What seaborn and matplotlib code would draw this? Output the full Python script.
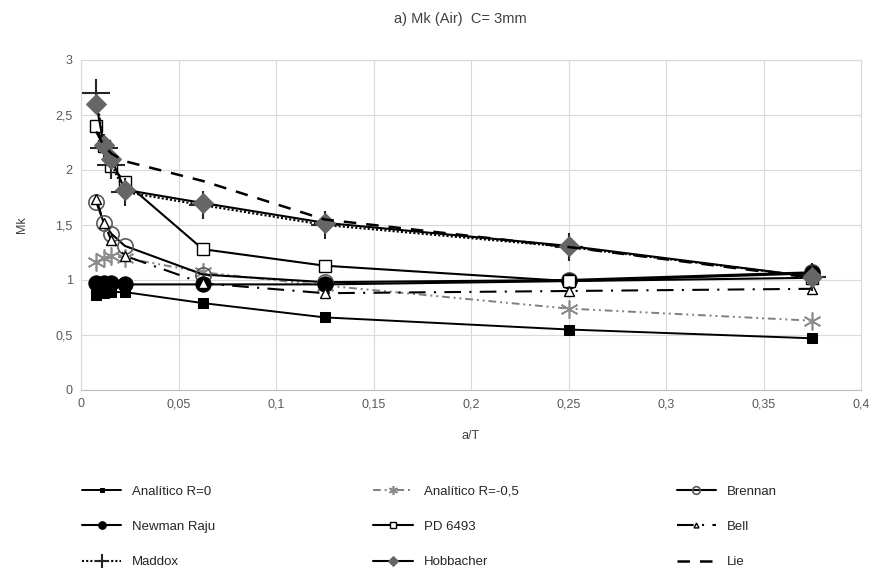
import numpy as np
import pandas as pd
import matplotlib
matplotlib.use("Agg")
import matplotlib.pyplot as plt
import seaborn as sns

# ---- data ----
a_T = [0.0078, 0.0117, 0.0156, 0.0225, 0.0625, 0.125, 0.25, 0.375]

analitico_r0 = [0.86, 0.88, 0.89, 0.89, 0.79, 0.66, 0.55, 0.47]
analitico_r05 = [1.16, 1.20, 1.22, 1.20, 1.07, 0.95, 0.74, 0.63]
brennan = [1.71, 1.52, 1.42, 1.31, 1.05, 0.98, 1.00, 1.07]
newman_raju = [0.97, 0.97, 0.97, 0.96, 0.96, 0.96, 0.99, 1.06]
pd6493 = [2.40, 2.22, 2.04, 1.89, 1.28, 1.13, 0.99, 1.02]
bell = [1.74, 1.52, 1.36, 1.22, 0.97, 0.88, 0.90, 0.92]
maddox = [2.70, 2.20, 2.05, 1.80, 1.68, 1.50, 1.30, 1.03]
hobbacher = [2.60, 2.23, 2.10, 1.82, 1.70, 1.52, 1.31, 1.03]
lie = [2.35, 2.22, 2.15, 2.08, 1.90, 1.55, 1.30, 1.02]

labels = ["Analítico R=0", "Analítico R=-0,5", "Brennan", "Newman Raju",
          "PD 6493", "Bell", "Maddox", "Hobbacher", "Lie"]
x_ticks = [0, 0.05, 0.1, 0.15, 0.2, 0.25, 0.3, 0.35, 0.4]
y_ticks = [0, 0.5, 1, 1.5, 2, 2.5, 3]
title = "a) Mk (Air)  C= 3mm"

sns.set_style("whitegrid", {"grid.color": "#d9d9d9", "axes.edgecolor": "#d9d9d9"})
plt.rcParams["font.family"] = ["Liberation Sans", "DejaVu Sans"]

fig = plt.figure(figsize=(8.77, 5.71), dpi=100)
ax = fig.add_axes([81 / 877, 1 - 390 / 571, 780 / 877, 330 / 571])

styles = {
    "Analítico R=0": dict(color="black", marker="s", markersize=7, linestyle="-", linewidth=1.4,
                          markerfacecolor="black", markeredgecolor="black"),
    "Analítico R=-0,5": dict(color="#7f7f7f", marker=(6, 2, 0), markersize=13, linestyle=(0, (4, 2, 1, 2, 1, 2)),
                             linewidth=1.4, markeredgecolor="#8c8c8c", markeredgewidth=1.2),
    "Brennan": dict(color="black", marker="o", markersize=11, linestyle="-", linewidth=1.5,
                    markerfacecolor="none", markeredgecolor="#595959", markeredgewidth=1.2),
    "Newman Raju": dict(color="black", marker="o", markersize=11, linestyle="-", linewidth=1.5,
                        markerfacecolor="black", markeredgecolor="black"),
    "PD 6493": dict(color="black", marker="s", markersize=8, linestyle="-", linewidth=1.5,
                    markerfacecolor="white", markeredgecolor="black", markeredgewidth=1.0),
    "Bell": dict(color="black", marker="^", markersize=7, linestyle=(0, (8, 4, 1, 4)), linewidth=1.5,
                 markerfacecolor="white", markeredgecolor="black", markeredgewidth=1.0),
    "Maddox": dict(color="black", marker="+", markersize=20, linestyle=(0, (1, 1)), linewidth=1.5,
                   markeredgewidth=1.5, markeredgecolor="#262626", markerfacecolor="#262626"),
    "Hobbacher": dict(color="black", marker="D", markersize=10, linestyle="-", linewidth=1.5,
                      markerfacecolor="#666666", markeredgecolor="#666666"),
    "Lie": dict(color="black", marker=None, linestyle=(0, (5, 4)), linewidth=1.8),
}
series = [analitico_r0, analitico_r05, brennan, newman_raju, pd6493, bell, maddox, hobbacher, lie]

for lab, vals in zip(labels, series):
    df = pd.DataFrame({"a/T": a_T, "Mk": vals})
    sns.lineplot(data=df, x="a/T", y="Mk", ax=ax, label=lab, sort=False, **styles[lab])

h, l = ax.get_legend_handles_labels()
hd = dict(zip(l, h))
ax.get_legend().remove()

ax.set_xlim(0, 0.4)
ax.set_ylim(0, 3)
ax.set_xticks(x_ticks)
ax.set_yticks(y_ticks)
fmt = lambda v: ("%g" % v).replace(".", ",")
ax.set_xticklabels([fmt(v) for v in x_ticks], fontsize=9, color="#595959")
ax.set_yticklabels([fmt(v) for v in y_ticks], fontsize=9, color="#595959")
ax.tick_params(length=0, pad=6)
ax.set_xlabel("a/T", fontsize=9, color="#404040", labelpad=14)
ax.set_ylabel("Mk", fontsize=9, color="#404040", labelpad=20)
ax.spines["bottom"].set_color("#bfbfbf")
fig.text(0.525, 1 - 19 / 571, title, ha="center", va="center", fontsize=10.5, color="#404040")

order = ["Analítico R=0", "Newman Raju", "Maddox",
         "Analítico R=-0,5", "PD 6493", "Hobbacher",
         "Brennan", "Bell", "Lie"]
fig.legend([hd[k] for k in order], order, ncol=3, frameon=False,
           loc="lower left", bbox_to_anchor=(70 / 877, -0.016), fontsize=9.5,
           markerscale=0.5, columnspacing=12, handlelength=3, labelspacing=1.75)

fig.savefig("out.png", dpi=100)
